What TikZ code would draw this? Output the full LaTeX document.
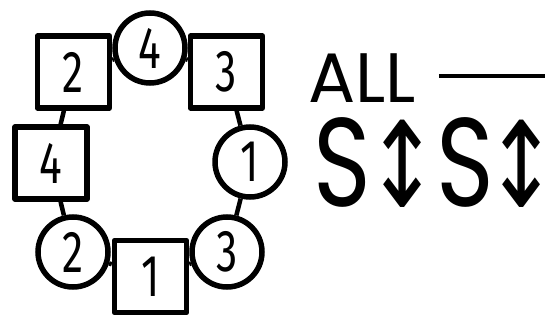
\documentclass[tikz,border=0pt]{standalone}
\usepackage{fontspec}
\setmainfont{Poppins}
\newfontfamily\digitfont[FakeStretch=0.72]{Fira Sans}
\newfontfamily\swapfont[FakeStretch=0.78]{Poppins}
\newfontfamily\arrowfont[FakeStretch=0.75]{DejaVu Sans}
\usetikzlibrary{positioning, backgrounds}

\begin{document}
\begin{tikzpicture}[
    x=1pt,
    y=-1pt,
    sqnode/.style={
        rectangle,
        draw=black,
        fill=white,
        line width=5.5pt,
        line join=round,
        minimum size=72pt,
        inner sep=0pt,
        font=\digitfont\fontsize{59}{59}\selectfont
    },
    cirnode/.style={
        circle,
        draw=black,
        fill=white,
        line width=5.5pt,
        minimum size=70pt,
        inner sep=0pt,
        font=\digitfont\fontsize{59}{59}\selectfont
    },
    link/.style={
        line width=4.5pt,
        draw=black
    },
    bigtext/.style={
        anchor=base west,
        inner sep=0pt
    }
]
    \useasboundingbox (0,0) rectangle (545,323);

    % Ring of tiles
    \node [cirnode] (cirFour)  at (150, 48)    {4};
    \node [sqnode]  (sqTwo)    at (73.5, 72)   {2};
    \node [sqnode]  (sqThree)  at (226.5, 72)  {3};
    \node [cirnode] (cirOne)   at (250, 162)   {1};
    \node [cirnode] (cirThree) at (227, 252)   {3};
    \node [cirnode] (cirTwo)   at (73, 252)    {2};
    \node [sqnode]  (sqOne)    at (150.5, 276.5) {1};
    \node [sqnode]  (sqFour)   at (51, 163)    {4};

    % Links
    \begin{scope}[on background layer]
        \draw [link] (sqTwo) -- (cirFour);
        \draw [link] (cirFour) -- (sqThree);
        \draw [link] (sqThree) -- (cirOne);
        \draw [link] (cirOne) -- (cirThree);
        \draw [link] (cirThree) -- (sqOne);
        \draw [link] (sqOne) -- (cirTwo);
        \draw [link] (cirTwo) -- (sqFour);
        \draw [link] (sqFour) -- (sqTwo);
    \end{scope}

    % Label on the right
    \node [bigtext, font=\fontsize{70}{70}\selectfont] (allText) at (308, 103)
        {ALL\hspace{23pt}\rule[25pt]{120pt}{3.5pt}};
    \node [bigtext, font=\swapfont\fontsize{126}{126}\selectfont] (swapText) at (313, 206)
        {S\kern-5pt{\arrowfont\fontsize{118}{118}\selectfont ↕}\kern-4pt S\kern-9pt{\arrowfont\fontsize{118}{118}\selectfont ↕}};
\end{tikzpicture}
\end{document}
